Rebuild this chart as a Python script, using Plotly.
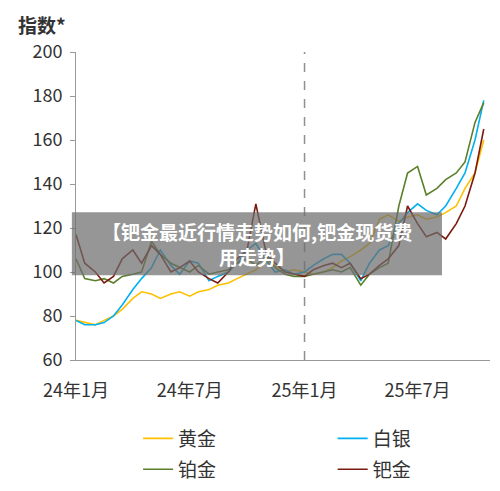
import pandas as pd
import plotly.graph_objects as go

# half-monthly points, Jan 2024 .. Oct 2025
dates = pd.date_range("2024-01-01", periods=44, freq="SMS")

gold = [78, 77, 76, 78, 80, 83, 88, 91, 90, 88, 90, 91, 89, 91, 92, 94, 95, 97, 99, 101,
        105, 103, 100, 101, 100, 99, 100, 102, 105, 107, 110, 113, 124, 126, 123, 125,
        126, 124, 125, 127, 130, 138, 145, 160]
silver = [78, 76, 76, 77, 80, 85, 92, 97, 102, 110, 103, 99, 105, 104, 96, 98, 100, 104,
          110, 113, 105, 100, 101, 99, 100, 103, 106, 108, 108, 104, 96, 104, 110, 112,
          122, 127, 131, 128, 126, 130, 138, 145, 160, 178]
platinum = [106, 97, 96, 97, 95, 98, 99, 100, 114, 108, 104, 102, 100, 103, 99, 100, 101,
            104, 106, 103, 107, 102, 99, 98, 98, 99, 100, 101, 100, 102, 94, 99, 102, 104,
            130, 145, 148, 135, 138, 142, 145, 150, 168, 177]
palladium = [117, 104, 100, 95, 98, 106, 110, 104, 112, 108, 100, 102, 105, 100, 97, 95,
             100, 106, 110, 131, 108, 104, 100, 99, 98, 101, 103, 104, 102, 104, 97, 99,
             103, 106, 112, 130, 122, 116, 118, 115, 122, 130, 145, 165]

series = [("黄金", gold, "#FFC000"), ("白银", silver, "#00B0F0"),
          ("铂金", platinum, "#5B7F2A"), ("钯金", palladium, "#7B1A0F")]
# one legend per entry, laid out as a 2x2 grid under the plot
legend_pos = [(0.15, -0.255), (0.62, -0.255), (0.15, -0.355), (0.62, -0.355)]

fig = go.Figure()
for i, (name, vals, col) in enumerate(series):
    fig.add_trace(go.Scatter(x=dates, y=vals, name=name, mode="lines", showlegend=True,
                             legend="legend" if i == 0 else f"legend{i + 1}",
                             line=dict(color=col, width=1.6)))

fig.add_vline(x="2025-01-01", line=dict(color="#909090", width=1.5, dash="dash"))

# grey banner over the plot
fig.add_shape(type="rect", xref="paper", yref="paper", x0=-0.01, x1=0.884, y0=0.275, y1=0.48,
              fillcolor="rgba(110,110,110,0.72)", line_width=0, layer="above")
fig.add_annotation(xref="paper", yref="paper", x=0.437, y=0.378, showarrow=False,
                   text="<b>【钯金最近行情走势如何,钯金现货费<br>用走势】</b>",
                   font=dict(color="white", size=19, family="Noto Sans CJK SC"), align="center")

fig.add_annotation(xref="paper", yref="paper", x=-0.145, y=1.04, xanchor="left", yanchor="bottom",
                   showarrow=False, text="<b>指数*</b>", font=dict(size=19, color="#333"))

legends = {}
for i, (lx, ly) in enumerate(legend_pos):
    key = "legend" if i == 0 else f"legend{i + 1}"
    legends[key] = dict(x=lx, y=ly, xanchor="left", yanchor="middle", font=dict(size=19),
                        bgcolor="rgba(0,0,0,0)")

fig.update_layout(
    width=500, height=491, margin=dict(l=68, r=18, t=44, b=139, autoexpand=False),
    plot_bgcolor="white", paper_bgcolor="white", showlegend=True,
    font=dict(family="Noto Sans CJK SC", size=18, color="#333"),
    **legends,
)
fig.update_xaxes(range=["2024-01-01", "2025-10-25"], showgrid=False, showline=True,
                 linecolor="#999", tickvals=["2024-01-01", "2024-07-01", "2025-01-01", "2025-07-01"],
                 ticktext=["24年1月", "24年7月", "25年1月", "25年7月"], ticks="", ticklabelstandoff=14)
fig.update_yaxes(range=[60, 200], dtick=20, showgrid=False, showline=True, linecolor="#999",
                 ticks="outside", ticklen=5, tickcolor="#999", zeroline=False, ticklabelstandoff=4)

fig.write_html("out.html")
